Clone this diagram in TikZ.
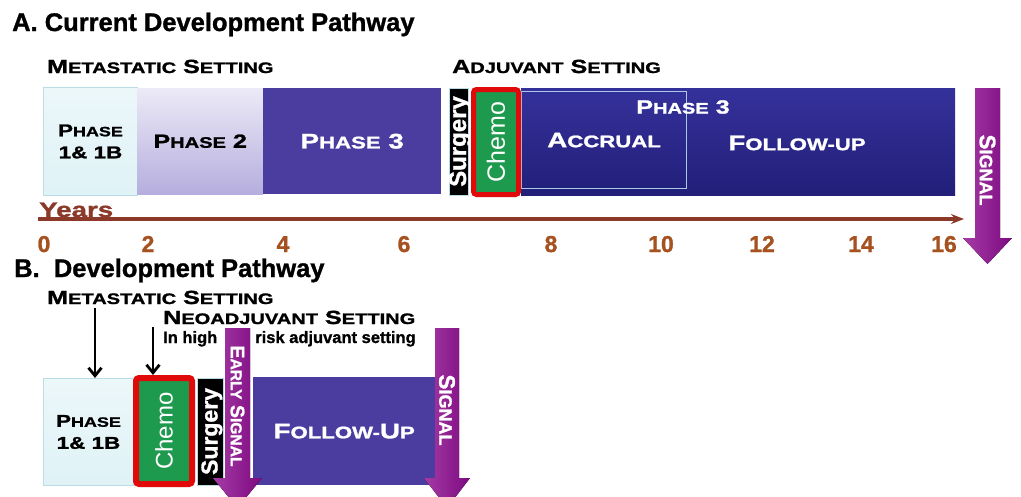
\documentclass[tikz,border=0pt]{standalone}
\usepackage{fontspec}
\setmainfont{Liberation Sans}[BoldFeatures={FakeBold=1.2}]
\newfontfamily\widefont[FakeStretch=1.32, FakeBold=1.4]{Liberation Sans}
\usetikzlibrary{arrows.meta, positioning}
\definecolor{phaseOneFill}{HTML}{DFF2F6}
\definecolor{phaseOneLine}{HTML}{B9DCE5}
\definecolor{phaseTwoTop}{HTML}{ECEAF7}
\definecolor{phaseTwoBottom}{HTML}{B5AEDE}
\definecolor{phaseThree}{HTML}{4B3DA0}
\definecolor{deepBlueTop}{HTML}{35319B}
\definecolor{deepBlueBottom}{HTML}{221F79}
\definecolor{chemoGreen}{HTML}{1E9A4E}
\definecolor{chemoRed}{HTML}{E10A0A}
\definecolor{sigLight}{HTML}{A53BA6}
\definecolor{sigDark}{HTML}{7D0A80}
\definecolor{axisBrown}{HTML}{8B3A2A}
\definecolor{tickBrown}{HTML}{A65220}
\definecolor{accrualLine}{HTML}{AAC8E8}
\makeatletter
\newcommand{\lowcap}[1]{{\fontsize{\fpeval{0.8*\f@size}}{0}\selectfont #1}}
\makeatother

\begin{document}
\begin{tikzpicture}[x=1pt, y=-1pt,
    every node/.style={inner sep=0pt},
    wide/.style={font=\widefont\bfseries\fontsize{#1}{22}\selectfont},
    plain/.style={font=\bfseries\fontsize{#1}{#1}\selectfont},
    lightbox/.style={anchor=north west, top color=phaseOneFill!60!white, bottom color=phaseOneFill,
        draw=phaseOneLine, line width=1pt},
    surgbox/.style={rotate=90, fill=black, draw=phaseOneLine, line width=0.8pt, text=white,
        plain=24, text height=15pt, text depth=0pt},
    chemobox/.style={rotate=90, fill=chemoGreen, draw=chemoRed, rounded corners=3pt, text=white,
        font=\fontsize{25}{25}\selectfont},
    sigtext/.style={rotate=-90, text=white, plain=#1},
    blackarrow/.style={line width=2.8pt, -{Straight Barb[length=8pt, width=13pt]}}
]
    \useasboundingbox (0,0) rectangle (1021,496);
    \clip (0,0) rectangle (1021,496);

    % part A
    \node[plain=25.5, anchor=base west] (titleA) at (12,31) {A. Current Development Pathway};
    \node[wide=19, anchor=base west] (metaA) at (47,73) {M\lowcap{ETASTATIC} S\lowcap{ETTING}};
    \node[wide=19, anchor=base west] (adjA) at (452,73) {A\lowcap{DJUVANT} S\lowcap{ETTING}};

    \node[lightbox, minimum width=94pt, minimum height=108pt, wide=17, align=center] (phOneA) at (43,87)
        {P\lowcap{HASE}\\1\& 1B};
    \node[anchor=north west, minimum width=126pt, minimum height=106pt, top color=phaseTwoTop,
        bottom color=phaseTwoBottom, wide=19] (phTwoA) at (137,88) {P\lowcap{HASE} 2};
    \node[anchor=north west, minimum width=178pt, minimum height=106pt, fill=phaseThree,
        text=white, wide=21] (phThreeA) at (263,88) {P\lowcap{HASE} 3};
    \node[surgbox, minimum width=107pt, minimum height=19pt] (surgeryA) at (458.5,141.5) {Surgery};

    \node[anchor=north west, minimum width=434pt, minimum height=107pt, top color=deepBlueTop,
        bottom color=deepBlueBottom] (trialA) at (521,88) {};
    \node[anchor=north west, minimum width=165pt, minimum height=97pt, draw=accrualLine,
        line width=1.2pt, text=white, wide=21] (accrualA) at (521,91) {A\lowcap{CCRUAL}};
    \node[wide=19, text=white] (phThreeInner) at (683,107) {P\lowcap{HASE} 3};
    \node[wide=21, text=white] (followA) at (797,143) {F\lowcap{OLLOW-UP}};
    \node[chemobox, line width=5pt, minimum width=105pt, minimum height=45pt] (chemoA) at (496,142) {Chemo};

    % years axis
    \node[wide=21, text=axisBrown, anchor=base west] (years) at (39,217) {Years};
    \coordinate (axStart) at (38,219);
    \coordinate (axEnd) at (964,219);
    \draw[axisBrown, line width=3.2pt, -{Stealth[length=13pt, width=10pt]}] (axStart) -- (axEnd);
    \foreach \yr/\xp in {0/44, 2/148, 4/283, 6/404, 8/551, 10/661, 12/762, 14/861, 16/944}
        \node[plain=23, text=tickBrown, anchor=base] (tick\yr) at (\xp,252) {\yr};

    \fill[left color=sigLight, right color=sigDark] (975,88) -- (1000,88) -- (1000,238) -- (1012,238)
        -- (987.5,264) -- (963,238) -- (975,238) -- cycle;
    \node[sigtext=22.5] (signalA) at (987.5,170) {S\lowcap{IGNAL}};

    % part B
    \node[plain=25.5, anchor=base west] (titleB) at (14,277) {B.\ \ Development Pathway};
    \node[wide=19, anchor=base west] (metaB) at (47,304) {M\lowcap{ETASTATIC} S\lowcap{ETTING}};
    \node[wide=19, anchor=base west] (neoB) at (163,324) {N\lowcap{EOADJUVANT} S\lowcap{ETTING}};
    \node[plain=16.5, anchor=base west] (riskB) at (163,343) {In high\hspace{38pt}risk adjuvant setting};

    \node[lightbox, minimum width=90pt, minimum height=107pt, wide=17, align=center] (phOneB) at (43,378)
        {P\lowcap{HASE}\\1\& 1B};
    \node[surgbox, minimum width=107pt, minimum height=26pt, font=\bfseries\fontsize{23}{23}\selectfont]
        (surgeryB) at (210,431.5) {Surgery};
    \node[chemobox, line width=6pt, minimum width=106pt, minimum height=56pt,
        font=\fontsize{24}{24}\selectfont] (chemoB) at (164,431) {Chemo};
    \node[anchor=north west, minimum width=182pt, minimum height=108pt, fill=phaseThree,
        text=white, wide=21] (followB) at (253,377) {F\lowcap{OLLOW-}U\lowcap{P}};

    \coordinate (metaArrow) at (95,308);
    \coordinate (neoArrow) at (153,327);
    \draw[blackarrow] (metaArrow) -- (metaArrow |- phOneB.north);
    \draw[blackarrow] (neoArrow) -- (neoArrow |- chemoB.east);

    \fill[left color=sigLight, right color=sigDark] (225,328) -- (250,328) -- (250,478) -- (262,478)
        -- (237.5,508) -- (213,478) -- (225,478) -- cycle;
    \node[sigtext=19.5] (earlySig) at (237.5,406) {E\lowcap{ARLY} S\lowcap{IGNAL}};
    \fill[left color=sigLight, right color=sigDark] (435,328) -- (459,328) -- (459,478) -- (470,478)
        -- (447,508) -- (424,478) -- (435,478) -- cycle;
    \node[sigtext=22.5] (signalB) at (447,410) {S\lowcap{IGNAL}};
\end{tikzpicture}
\end{document}
